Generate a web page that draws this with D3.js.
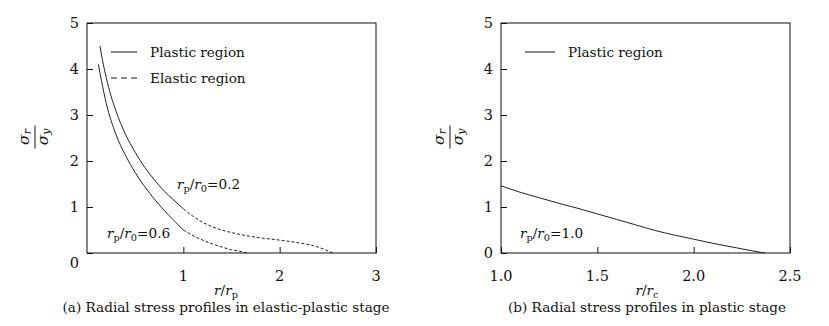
<!DOCTYPE html>
<html>
<head>
<meta charset="utf-8">
<script src="https://cdn.jsdelivr.net/npm/d3@7"></script>
<style>
  html, body { margin: 0; padding: 0; background: #fff; }
  svg { display: block; }
  text { font-family: "DejaVu Serif", "Liberation Serif", serif; fill: #111; }
</style>
</head>
<body>
<svg id="chart" width="829" height="326"></svg>
<script>
// ---------- Data ----------
// Panel (a): rp/r0 = 0.2
const a02Plastic = [[0.135,4.5],[0.16,4.2],[0.2,3.81],[0.25,3.41],[0.3,3.09],[0.4,2.58],[0.5,2.19],[0.6,1.86],[0.7,1.59],[0.8,1.35],[0.9,1.15],[1.0,0.96]];
const a02Elastic = [[1.0,0.96],[1.1,0.8],[1.2,0.67],[1.3,0.57],[1.45,0.47],[1.6,0.4],[1.8,0.33],[2.0,0.28],[2.2,0.22],[2.35,0.16],[2.45,0.09],[2.55,0.0]];
// Panel (a): rp/r0 = 0.6
const a06Plastic = [[0.118,4.1],[0.15,3.75],[0.2,3.25],[0.25,2.88],[0.3,2.58],[0.4,2.12],[0.5,1.75],[0.6,1.44],[0.7,1.17],[0.8,0.93],[0.9,0.71],[1.0,0.5]];
const a06Elastic = [[1.0,0.5],[1.1,0.38],[1.2,0.28],[1.3,0.2],[1.4,0.13],[1.5,0.07],[1.6,0.03],[1.66,0.0]];
// Panel (b): rp/r0 = 1.0
const b10Plastic = [[1.0,1.46],[1.1,1.32],[1.2,1.2],[1.3,1.08],[1.4,0.97],[1.5,0.85],[1.6,0.73],[1.7,0.61],[1.8,0.49],[1.9,0.39],[2.0,0.3],[2.1,0.21],[2.2,0.13],[2.3,0.05],[2.37,0.0]];

const yTicks = [0,1,2,3,4,5];
const aXTicks = [1,2,3];
const bXTicks = [1.0,1.5,2.0,2.5];
const legendLabels = ["Plastic region", "Elastic region"];
const captionA = "(a) Radial stress profiles in elastic-plastic stage";
const captionB = "(b) Radial stress profiles in plastic stage";

// ---------- Layout ----------
const svg = d3.select("#chart");
const plotTop = 23, plotBottom = 253;
const panels = [
  { left: 87, right: 376, domain: [0,3], xTicks: aXTicks, fmt: d3.format("d"),
    series: [
      { data: a02Plastic, dash: null },
      { data: a02Elastic, dash: "3,2" },
      { data: a06Plastic, dash: null },
      { data: a06Elastic, dash: "3,2" }
    ],
    legend: [{ label: legendLabels[0], dash: null }, { label: legendLabels[1], dash: "6,4" }],
    legendX: 111, legendLen: 26, legendTextX: 150,
    notes: [{ x: 177, y: 189, val: "0.2" }, { x: 107, y: 238, val: "0.6" }],
    zeroOffset: 10, xLabel: "p", caption: captionA, captionX: 226, ylabX: 35
  },
  { left: 501, right: 790, domain: [1,2.5], xTicks: bXTicks, fmt: d3.format(".1f"),
    series: [ { data: b10Plastic, dash: null } ],
    legend: [{ label: legendLabels[0], dash: null }],
    legendX: 525, legendLen: 30, legendTextX: 568,
    notes: [{ x: 520, y: 238, val: "1.0" }],
    zeroOffset: 0, xLabel: "c", caption: captionB, captionX: 647, ylabX: 450
  }
];

const fs = 13.6;
const fsLab = 15.5;

panels.forEach(p => {
  const x = d3.scaleLinear().domain(p.domain).range([p.left, p.right]);
  const y = d3.scaleLinear().domain([0,5]).range([plotBottom, plotTop]);
  const g = svg.append("g");

  // frame
  g.append("rect").attr("x", p.left).attr("y", plotTop)
    .attr("width", p.right - p.left).attr("height", plotBottom - plotTop)
    .attr("fill", "none").attr("stroke", "#111").attr("stroke-width", 1);

  // y axis (inward ticks)
  const yAxis = d3.axisRight(y).tickValues(yTicks).tickSize(6).tickFormat("");
  const ya = g.append("g").attr("transform", `translate(${p.left},0)`).call(yAxis);
  ya.select(".domain").remove();
  ya.selectAll("line").attr("stroke", "#111");
  g.selectAll(".ylab").data(yTicks).join("text")
    .attr("x", p.left - 8)
    .attr("y", d => y(d) + (d === 0 ? p.zeroOffset : 0))
    .attr("dy", "0.36em").attr("text-anchor", "end")
    .attr("font-size", 14.5).text(d => d);

  // x axis (inward ticks)
  const xAxis = d3.axisTop(x).tickValues(p.xTicks).tickSize(6).tickFormat("");
  const xa = g.append("g").attr("transform", `translate(0,${plotBottom})`).call(xAxis);
  xa.select(".domain").remove();
  xa.selectAll("line").attr("stroke", "#111");
  g.selectAll(".xlab").data(p.xTicks).join("text")
    .attr("x", d => x(d)).attr("y", plotBottom + 23)
    .attr("dy", "0.36em").attr("text-anchor", "middle")
    .attr("font-size", 14.5).text(d => p.fmt(d));

  // curves
  const line = d3.line().x(d => x(d[0])).y(d => y(d[1])).curve(d3.curveMonotoneX);
  p.series.forEach(s => {
    g.append("path").attr("d", line(s.data))
      .attr("fill", "none").attr("stroke", "#222").attr("stroke-width", 1)
      .attr("stroke-dasharray", s.dash);
  });

  // legend
  p.legend.forEach((l, i) => {
    const ly = 52 + i * 26;
    g.append("line").attr("x1", p.legendX).attr("x2", p.legendX + p.legendLen)
      .attr("y1", ly).attr("y2", ly).attr("stroke", "#111").attr("stroke-width", 1)
      .attr("stroke-dasharray", l.dash);
    g.append("text").attr("x", p.legendTextX).attr("y", ly).attr("dy", "0.36em")
      .attr("font-size", fs).text(l.label);
  });

  // annotations r_p/r_0 = v
  p.notes.forEach(n => {
    const t = g.append("text").attr("x", n.x).attr("y", n.y).attr("font-size", fs);
    t.append("tspan").attr("font-style", "italic").text("r");
    t.append("tspan").attr("font-size", fs * 0.72).attr("dy", 3).text("p");
    t.append("tspan").attr("dy", -3).text("/");
    t.append("tspan").attr("font-style", "italic").text("r");
    t.append("tspan").attr("font-size", fs * 0.72).attr("dy", 3).text("0");
    t.append("tspan").attr("dy", -3).text("=" + n.val);
  });

  // x label r / r_p
  const xl = g.append("text").attr("x", p.captionX).attr("y", 295)
    .attr("text-anchor", "middle").attr("font-size", fs);
  xl.append("tspan").attr("font-style", "italic").text("r");
  xl.append("tspan").text("/");
  xl.append("tspan").attr("font-style", "italic").text("r");
  xl.append("tspan").attr("font-size", fs * 0.72).attr("dy", 3).text(p.xLabel);

  // caption
  g.append("text").attr("x", p.captionX).attr("y", 312)
    .attr("text-anchor", "middle").attr("font-size", fs).text(p.caption);

  // y label: sigma_r / sigma_y fraction, rotated
  const yl = g.append("g").attr("transform", `translate(${p.ylabX},137) rotate(-90)`);
  yl.append("line").attr("x1", -11.5).attr("x2", 11.5).attr("y1", 0).attr("y2", 0)
    .attr("stroke", "#111").attr("stroke-width", 1);
  const num = yl.append("text").attr("x", 0).attr("y", -6).attr("text-anchor", "middle").attr("font-size", fsLab);
  num.append("tspan").attr("font-style", "italic").text("σ");
  num.append("tspan").attr("font-style", "italic").attr("font-size", fsLab * 0.7).attr("dy", 2).text("r");
  const den = yl.append("text").attr("x", 0).attr("y", 13).attr("text-anchor", "middle").attr("font-size", fsLab);
  den.append("tspan").attr("font-style", "italic").text("σ");
  den.append("tspan").attr("font-style", "italic").attr("font-size", fsLab * 0.7).attr("dy", 2).text("y");
});
</script>
</body>
</html>
